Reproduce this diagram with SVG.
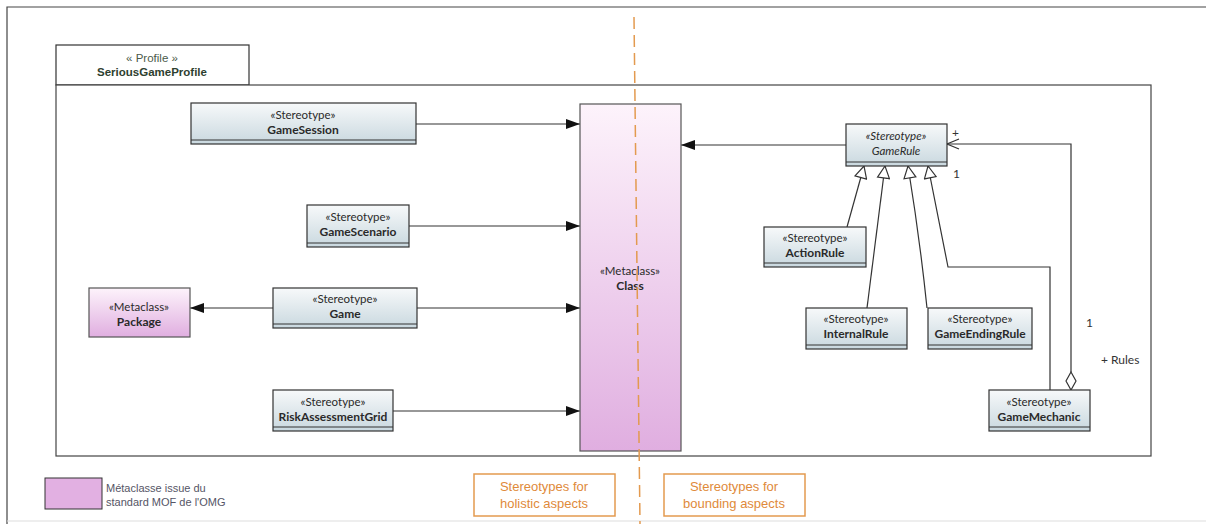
<svg xmlns="http://www.w3.org/2000/svg" width="1206" height="524" viewBox="0 0 1206 524">
<style>
.st{font-family:Lato,"Open Sans","Liberation Sans",sans-serif;font-size:11.5px;fill:#2a2a2a;text-anchor:middle}
.nm{font-family:Lato,"Open Sans","Liberation Sans",sans-serif;font-size:12px;font-weight:bold;fill:#2a2a2a;text-anchor:middle}
.box{fill:url(#gs);stroke:#333;stroke-width:1.2}
.pk{stroke:#555;stroke-width:1.2}
.ln{fill:none;stroke:#333;stroke-width:1.2}
.lbl{font-family:Lato,"Open Sans","Liberation Sans",sans-serif;font-size:12px;fill:#333}
.or{fill:none;stroke:#e39a4f;stroke-width:1.5}
.ot{font-family:"Liberation Sans",Arial,sans-serif;font-size:13px;fill:#e08a3a;text-anchor:middle}
</style>
<defs>
<linearGradient id="gs" x1="0" y1="0" x2="0" y2="1"><stop offset="0" stop-color="#f7f9fa"/><stop offset="1" stop-color="#c9d8df"/></linearGradient>
<linearGradient id="gp" x1="0" y1="0" x2="0" y2="1"><stop offset="0" stop-color="#fdf3fb"/><stop offset="1" stop-color="#e0aee0"/></linearGradient>
<marker id="fa" viewBox="0 0 14 10" refX="14" refY="5" markerWidth="14" markerHeight="10" markerUnits="userSpaceOnUse" orient="auto"><path d="M0,0 L14,5 L0,10 z" fill="#111"/></marker>
<marker id="ht" viewBox="0 0 14 14" refX="13" refY="7" markerWidth="14" markerHeight="14" markerUnits="userSpaceOnUse" orient="auto"><path d="M1,1 L13,7 L1,13 z" fill="#fff" stroke="#333" stroke-width="1.2"/></marker>
<marker id="oa" viewBox="0 0 14 12" refX="13" refY="6" markerWidth="14" markerHeight="12" markerUnits="userSpaceOnUse" orient="auto"><path d="M1,1 L13,6 L1,11" fill="none" stroke="#333" stroke-width="1.2"/></marker>
</defs>
<rect width="1206" height="524" fill="#fff"/>
<g id="frame">
<path d="M7,524 V7 H1206" fill="none" stroke="#444" stroke-width="1.2"/>
<line x1="7" y1="521" x2="1206" y2="521" stroke="#ddd" stroke-width="1"/>
</g>
<g id="profile">
<rect x="56" y="45" width="193" height="40" fill="#fff" stroke="#333" stroke-width="1.2"/>
<rect x="56" y="85" width="1095" height="371" fill="#fff" stroke="#444" stroke-width="1.2"/>
<text x="152" y="62" font-family="'Liberation Sans',Arial,sans-serif" font-size="11.5" fill="#4a5a4a" text-anchor="middle">« Profile »</text>
<text x="152" y="76" font-family="'Liberation Sans',Arial,sans-serif" font-size="11.5" font-weight="bold" fill="#2e4030" text-anchor="middle">SeriousGameProfile</text>
</g>
<g id="connectors">
<line class="ln" x1="416" y1="124" x2="580" y2="124" marker-end="url(#fa)"/>
<line class="ln" x1="409" y1="226" x2="580" y2="226" marker-end="url(#fa)"/>
<line class="ln" x1="417" y1="308" x2="580" y2="308" marker-end="url(#fa)"/>
<line class="ln" x1="393" y1="411" x2="580" y2="411" marker-end="url(#fa)"/>
<line class="ln" x1="273" y1="308" x2="190" y2="308" marker-end="url(#fa)"/>
<line class="ln" x1="846" y1="145" x2="681" y2="145" marker-end="url(#fa)"/>
<line class="ln" x1="847" y1="227" x2="864" y2="166" marker-end="url(#ht)"/>
<path class="ln" d="M867,308 L885,166" marker-end="url(#ht)"/>
<path class="ln" d="M927,308 Q920,240 908,166" marker-end="url(#ht)"/>
<path class="ln" d="M1050,390 V267 H948 L928,166" marker-end="url(#ht)"/>
<path class="ln" d="M1071,372 V144 H947" marker-end="url(#oa)"/>
<path d="M1071,372 L1076,381 L1071,390 L1066,381 z" fill="#fff" stroke="#333" stroke-width="1.2"/>
<text class="lbl" x="952" y="137">+</text>
<text class="lbl" x="953" y="178">1</text>
<text class="lbl" x="1086" y="327">1</text>
<text class="lbl" x="1101" y="364">+ Rules</text>
</g>
<g id="GameSession">
<rect class="box" x="191" y="103" width="225" height="41"/>
<line x1="191" y1="140" x2="416" y2="140" stroke="#333"/>
<text class="st" x="303" y="119">«Stereotype»</text>
<text class="nm" x="303" y="134">GameSession</text>
</g>
<g id="GameScenario">
<rect class="box" x="307" y="205" width="102" height="42"/>
<line x1="307" y1="243" x2="409" y2="243" stroke="#333"/>
<text class="st" x="358" y="221">«Stereotype»</text>
<text class="nm" x="358" y="236">GameScenario</text>
</g>
<g id="Game">
<rect class="box" x="273" y="288" width="144" height="40"/>
<line x1="273" y1="324" x2="417" y2="324" stroke="#333"/>
<text class="st" x="345" y="303">«Stereotype»</text>
<text class="nm" x="345" y="318">Game</text>
</g>
<g id="RiskAssessmentGrid">
<rect class="box" x="273" y="390" width="120" height="41"/>
<line x1="273" y1="427" x2="393" y2="427" stroke="#333"/>
<text class="st" x="333" y="406">«Stereotype»</text>
<text class="nm" x="333" y="421">RiskAssessmentGrid</text>
</g>
<g id="Package">
<rect x="89" y="288" width="101" height="49" fill="url(#gp)" class="pk"/>
<text class="st" x="139" y="311">«Metaclass»</text>
<text class="nm" x="139" y="326">Package</text>
</g>
<g id="Class">
<rect x="580" y="104" width="101" height="347" fill="url(#gp)" class="pk"/>
<text class="st" x="630" y="275">«Metaclass»</text>
<text class="nm" x="630" y="290">Class</text>
</g>
<g id="GameRule">
<rect class="box" x="846" y="124" width="101" height="42"/>
<line x1="846" y1="162" x2="947" y2="162" stroke="#333"/>
<text class="st" x="896" y="140" font-style="italic">«Stereotype»</text>
<text class="st" x="896" y="155" font-style="italic" font-size="12">GameRule</text>
</g>
<g id="ActionRule">
<rect class="box" x="764" y="227" width="102" height="40"/>
<line x1="764" y1="263" x2="866" y2="263" stroke="#333"/>
<text class="st" x="815" y="242">«Stereotype»</text>
<text class="nm" x="815" y="257">ActionRule</text>
</g>
<g id="InternalRule">
<rect class="box" x="806" y="308" width="101" height="41"/>
<line x1="806" y1="345" x2="907" y2="345" stroke="#333"/>
<text class="st" x="856" y="323">«Stereotype»</text>
<text class="nm" x="856" y="338">InternalRule</text>
</g>
<g id="GameEndingRule">
<rect class="box" x="928" y="308" width="104" height="41"/>
<line x1="928" y1="345" x2="1032" y2="345" stroke="#333"/>
<text class="st" x="980" y="323">«Stereotype»</text>
<text class="nm" x="980" y="338">GameEndingRule</text>
</g>
<g id="GameMechanic">
<rect class="box" x="989" y="390" width="101" height="41"/>
<line x1="989" y1="427" x2="1090" y2="427" stroke="#333"/>
<text class="st" x="1039" y="406">«Stereotype»</text>
<text class="nm" x="1039" y="421">GameMechanic</text>
</g>
<g id="divider">
<line x1="634" y1="17" x2="640" y2="524" stroke="#e39a4f" stroke-width="1.5" stroke-dasharray="12,6"/>
</g>
<g id="legend">
<rect x="45" y="478" width="57" height="31" fill="#e2b0e2" stroke="#333" stroke-width="1"/>
<text x="106" y="492" font-family="'Liberation Sans',Arial,sans-serif" font-size="11" fill="#556">Métaclasse issue du</text>
<text x="106" y="506" font-family="'Liberation Sans',Arial,sans-serif" font-size="11" fill="#556">standard MOF de l'OMG</text>
</g>
<g id="holistic">
<rect class="or" x="474" y="474" width="141" height="42"/>
<text class="ot" x="544" y="491">Stereotypes for</text>
<text class="ot" x="544" y="508">holistic aspects</text>
</g>
<g id="bounding">
<rect class="or" x="664" y="474" width="141" height="42"/>
<text class="ot" x="734" y="491">Stereotypes for</text>
<text class="ot" x="734" y="508">bounding aspects</text>
</g>
</svg>
